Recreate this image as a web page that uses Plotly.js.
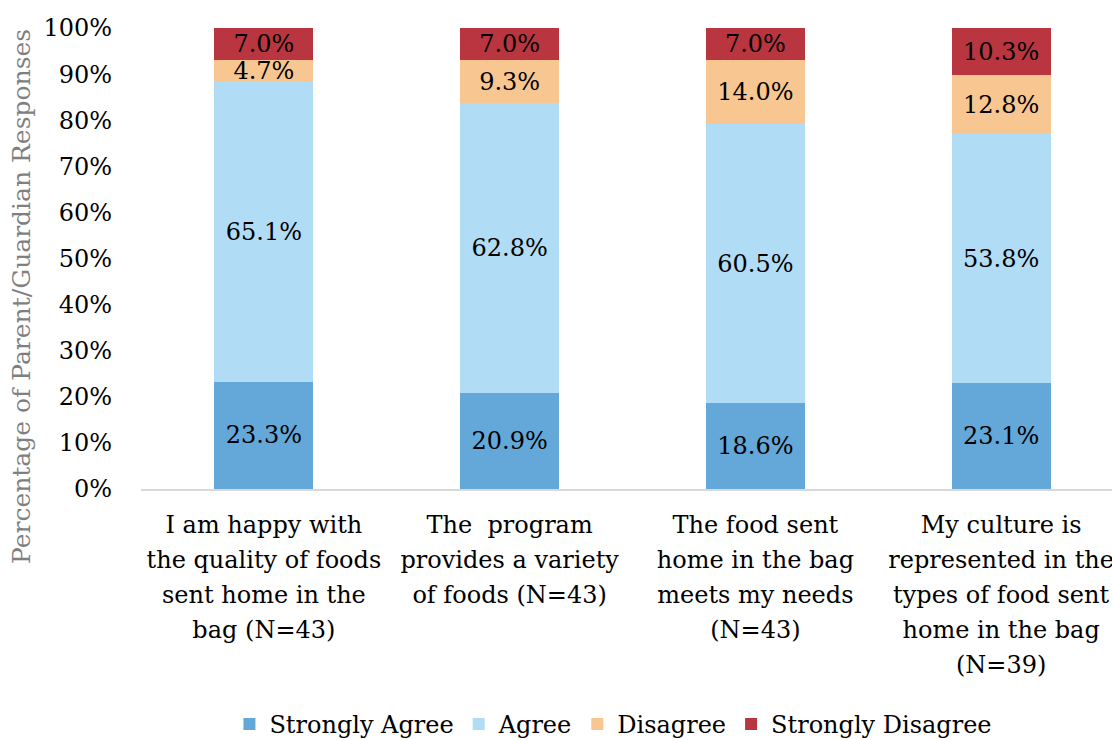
<!DOCTYPE html>
<html>
<head>
<meta charset="utf-8">
<script src="https://cdn.plot.ly/plotly-3.0.1.min.js"></script>
<style>
html, body { margin: 0; padding: 0; overflow: hidden; background: #fff; }
#chart { width: 1124px; height: 740px; }
</style>
</head>
<body>
<div id="chart"></div>
<script>
const categories = [
  "I am happy with<br>the quality of foods<br>sent home in the<br>bag (N=43)",
  "The\u00a0 program<br>provides a variety<br>of foods (N=43)",
  "The food sent<br>home in the bag<br>meets my needs<br>(N=43)",
  "My culture is<br>represented in the<br>types of food sent<br>home in the bag<br>(N=39)"
];
const seriesNames = ["Strongly Agree", "Agree", "Disagree", "Strongly Disagree"];
const stronglyAgree = [23.3, 20.9, 18.6, 23.1];
const agree = [65.1, 62.8, 60.5, 53.8];
const disagree = [4.7, 9.3, 14.0, 12.8];
const stronglyDisagree = [7.0, 7.0, 7.0, 10.3];
const yTickValues = [0, 10, 20, 30, 40, 50, 60, 70, 80, 90, 100];
const yTickLabels = ["0%", "10%", "20%", "30%", "40%", "50%", "60%", "70%", "80%", "90%", "100%"];

const colors = ["#64a7d9", "#b1dcf6", "#f8c690", "#b9353f"];
const FONT = "DejaVu Serif, serif";
const allSeries = [stronglyAgree, agree, disagree, stronglyDisagree];

const traces = allSeries.map((vals, i) => ({
  type: "bar",
  name: seriesNames[i],
  x: categories,
  y: vals,
  marker: { color: colors[i], line: { width: 0 } },
  text: vals.map(v => v.toFixed(1) + "%"),
  textposition: "inside",
  insidetextanchor: "middle",
  textangle: 0,
  textfont: { family: FONT, size: 24, color: "#000" },
  hoverinfo: "none"
}));

const layout = {
  width: 1124,
  height: 740,
  barmode: "stack",
  bargap: 0.597,
  margin: { l: 141, r: 0, t: 28, b: 251, autoexpand: false },
  paper_bgcolor: "#fff",
  plot_bgcolor: "#fff",
  font: { family: FONT, size: 24, color: "#000" },
  uniformtext: { mode: "show", minsize: 24 },
  showlegend: true,
  legend: {
    orientation: "h",
    x: 0.4806, xanchor: "center",
    y: -0.462, yanchor: "top",
    font: { family: FONT, size: 24, color: "#000" },
    traceorder: "normal",
    itemwidth: 30
  },
  xaxis: {
    type: "category",
    automargin: false,
    showline: true,
    linecolor: "#d9d9d9",
    linewidth: 2,
    ticks: "",
    showgrid: false,
    zeroline: false,
    tickangle: 0,
    tickfont: { family: FONT, size: 24, color: "#000" },
    ticklabelstandoff: 13
  },
  yaxis: {
    automargin: false,
    range: [0, 100],
    tickvals: yTickValues,
    ticktext: yTickLabels,
    showline: false,
    showgrid: false,
    zeroline: false,
    ticks: "",
    ticklabelstandoff: 28,
    tickfont: { family: FONT, size: 24, color: "#000" }
  },
  annotations: [{
    text: "Percentage of Parent/Guardian Responses",
    xref: "paper", yref: "paper",
    x: -0.121, y: 0.4165,
    xanchor: "center", yanchor: "middle",
    textangle: -90,
    showarrow: false,
    font: { family: FONT, size: 25, color: "#7f7f7f" }
  }]
};

const gd = document.getElementById("chart");
Plotly.newPlot(gd, traces, layout, { displayModeBar: false, staticPlot: true }).then(() => {
  // widen the line spacing of the multi-line category labels
  const factor = 1.458 / 1.3;
  gd.querySelectorAll(".xtick text tspan.line").forEach(t => {
    const dy = t.getAttribute("dy");
    if (dy && dy.endsWith("em")) {
      t.setAttribute("dy", (parseFloat(dy) * factor) + "em");
    }
  });
});
</script>
</body>
</html>
